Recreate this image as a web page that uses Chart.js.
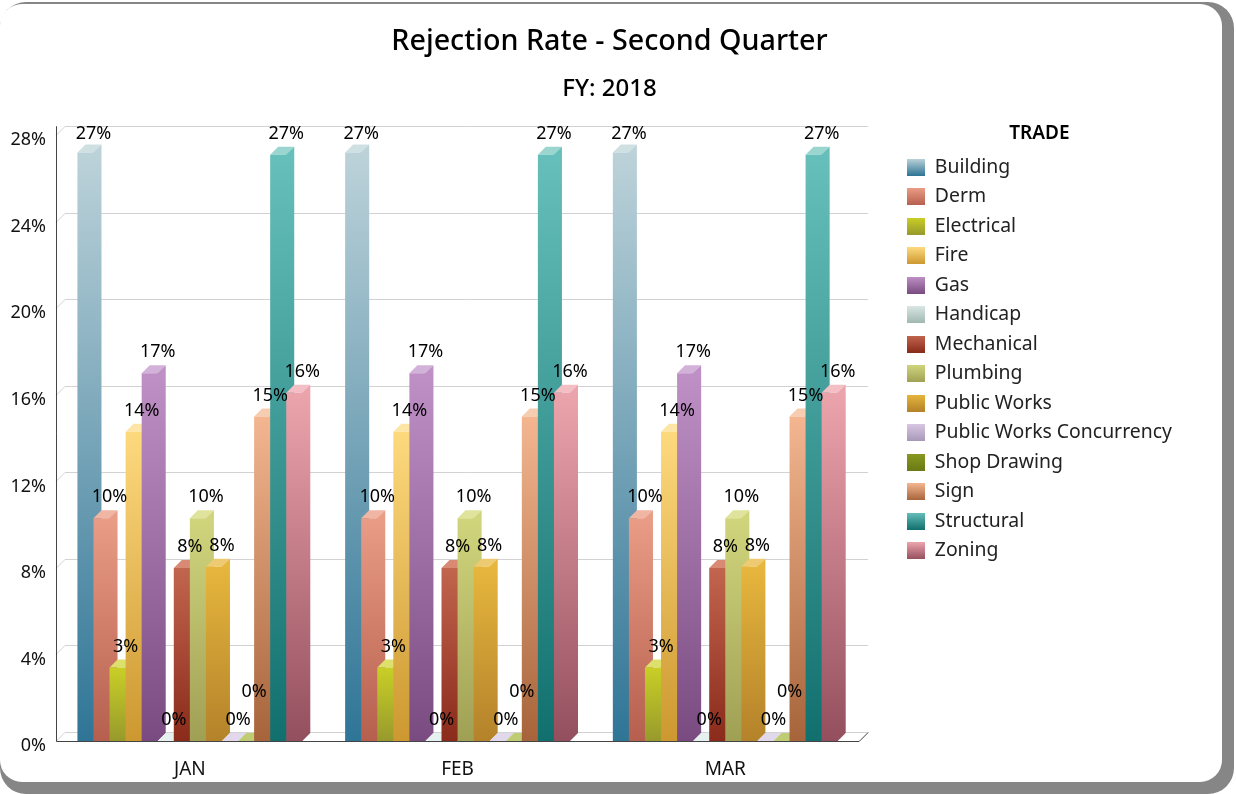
<!DOCTYPE html>
<html>
<head>
<meta charset="utf-8">
<style>
  html, body { margin: 0; padding: 0; background: #fff; overflow: hidden; }
  #frame { position: absolute; left: 0; top: 2px; width: 1234px; height: 792px; border-radius: 26px; background: #868686; filter: blur(0.7px); }
  #panel { position: absolute; left: 0; top: 2px; width: 1222px; height: 778px; border-radius: 22px; background: #fff; }
  #chart { position: absolute; left: 0; top: 0; }
</style>
<script src="https://cdn.jsdelivr.net/npm/chart.js@4/dist/chart.umd.min.js"></script>
</head>
<body>
<div id="frame"><div id="panel"></div></div>
<canvas id="chart" width="1219" height="794"></canvas>
<script>
const months = ['JAN', 'FEB', 'MAR'];
const trades = ['Building', 'Derm', 'Electrical', 'Fire', 'Gas', 'Handicap', 'Mechanical', 'Plumbing', 'Public Works', 'Public Works Concurrency', 'Shop Drawing', 'Sign', 'Structural', 'Zoning'];
const rates = [27.2, 10.3, 3.4, 14.3, 17.0, 0, 8.0, 10.3, 8.05, 0, 0, 15.0, 27.1, 16.1];
const topColors = ['#bcd2d9', '#e99c86', '#c9cf26', '#fdd97e', '#bf90c6', '#d9e6e4', '#c2654e', '#d0d57c', '#e6b63d', '#d8c6e2', '#8a9a20', '#f3b690', '#66bfba', '#eca4ac'];
const bottomColors = ['#2f7596', '#b65f4e', '#979a2c', '#cd9830', '#7a4b81', '#a0b8b0', '#8a2b1b', '#a0a055', '#b4822a', '#a898b8', '#6b7a15', '#a7643b', '#11706e', '#944f5e'];
const topFaceColors = ['#cfe0e3', '#f0b5a3', '#dde06c', '#fde5a5', '#d3b2d9', '#e6f0ee', '#d88a75', '#dfe39c', '#eecb72', '#e1d8ec', '#c0cc74', '#f7cdb1', '#9bd5d0', '#f3bfc5'];
const lift = [0, 0, 0, 0, 0, 0, 0, 0, 0, 0, 28, 0, 0, 0];
const fontFamily = '"Noto Sans", sans-serif';
const depth = 8;
const wallDepth = 9;

function swatch(i) {
    const c = document.createElement('canvas');
    c.width = 18;
    c.height = 17;
    const g = c.getContext('2d');
    const grad = g.createLinearGradient(0, 0, 0, 17);
    grad.addColorStop(0, topColors[i]);
    grad.addColorStop(1, bottomColors[i]);
    g.fillStyle = grad;
    g.fillRect(0, 0, 18, 17);
    return c;
}

function barGradient(c, i, bar) {
    const grad = c.createLinearGradient(0, bar.y, 0, bar.base);
    grad.addColorStop(0, topColors[i]);
    grad.addColorStop(1, bottomColors[i]);
    return grad;
}

const walls = {
    id: 'walls',
    beforeDatasetsDraw(chart) {
        const c = chart.ctx;
        const y = chart.scales.y;
        const area = chart.chartArea;
        c.save();
        c.lineWidth = 1;
        c.strokeStyle = '#d2d2d2';
        y.ticks.forEach((t) => {
            const py = Math.round(y.getPixelForValue(t.value)) + 0.5;
            c.beginPath();
            c.moveTo(area.left, py);
            c.lineTo(area.left + wallDepth, py - wallDepth);
            c.lineTo(area.right + wallDepth, py - wallDepth);
            c.stroke();
        });
        c.strokeStyle = '#444';
        c.beginPath();
        c.moveTo(area.left + 0.5, y.getPixelForValue(28) - wallDepth);
        c.lineTo(area.left + 0.5, area.bottom + 0.5);
        c.lineTo(area.right, area.bottom + 0.5);
        c.lineTo(area.right + wallDepth, area.bottom - wallDepth + 0.5);
        c.stroke();

        // left to right so each front covers the side of the bar before it
        trades.forEach((name, i) => {
            const meta = chart.getDatasetMeta(i);
            meta.data.forEach((bar) => {
                const l = bar.x - bar.width / 2;
                const r = bar.x + bar.width / 2;
                if (bar.base > bar.y) {
                    c.fillStyle = barGradient(c, i, bar);
                    c.beginPath();
                    c.moveTo(r - 1, bar.y);
                    c.lineTo(r + depth, bar.y - depth);
                    c.lineTo(r + depth, bar.base - depth);
                    c.lineTo(r, bar.base);
                    c.lineTo(r - 1, bar.base);
                    c.closePath();
                    c.fill();
                }
                c.fillStyle = topFaceColors[i];
                c.beginPath();
                c.moveTo(l, bar.y);
                c.lineTo(l + depth, bar.y - depth);
                c.lineTo(r + depth, bar.y - depth);
                c.lineTo(r, bar.y);
                c.closePath();
                c.fill();
            });
            meta.controller.draw();
        });
        c.restore();
        return false;
    },
    afterDraw(chart) {
        const c = chart.ctx;
        c.save();
        c.fillStyle = '#000';
        c.font = '18px ' + fontFamily;
        c.textAlign = 'center';
        c.textBaseline = 'middle';
        trades.forEach((name, i) => {
            chart.getDatasetMeta(i).data.forEach((bar, j) => {
                const v = chart.data.datasets[i].data[j];
                const ly = Math.max(chart.chartArea.top - 1, bar.y - depth - 13 - lift[i]);
                c.fillText(Math.round(v) + '%', bar.x + bar.width / 2, ly);
            });
        });
        c.restore();
    },
    afterLayout(chart) {
        chart.legend.left = 897;
        chart.legend.right = 1219;
        // titles stay centred on the whole panel, not on what the padding leaves
        chart.boxes.forEach((b) => {
            if (b.position === 'top') {
                b.left = 0;
                b.right = 1219;
            }
        });
    },
};

new Chart(document.getElementById('chart'), {
    type: 'bar',
    data: {
        labels: months,
        datasets: trades.map((name, i) => ({
            label: name,
            data: months.map(() => rates[i]),
            backgroundColor: (ctx) => {
                if (!ctx.chart.chartArea || ctx.parsed === undefined) return topColors[i];
                const y = ctx.chart.scales.y;
                const grad = ctx.chart.ctx.createLinearGradient(0, y.getPixelForValue(ctx.parsed.y), 0, y.getPixelForValue(0));
                grad.addColorStop(0, topColors[i]);
                grad.addColorStop(1, bottomColors[i]);
                return grad;
            },
            borderWidth: 0,
            categoryPercentage: 0.84,
            barPercentage: 1,
            pointStyle: swatch(i),
        })),
    },
    options: {
        responsive: false,
        animation: false,
        layout: { padding: { right: 75 } },
        plugins: {
            title: {
                display: true,
                text: 'Rejection Rate - Second Quarter',
                color: '#000',
                font: { family: fontFamily, size: 28.7, weight: '500' },
                padding: { top: 24.5, bottom: 15.5 },
            },
            subtitle: {
                display: true,
                text: 'FY: 2018',
                color: '#000',
                font: { family: fontFamily, size: 24, weight: '500' },
                padding: { top: 0, bottom: 32 },
            },
            legend: {
                position: 'right',
                align: 'start',
                title: {
                    display: true,
                    text: 'TRADE',
                    color: '#000',
                    font: { family: fontFamily, size: 19, weight: '600' },
                    padding: { top: 124, bottom: 0.6 },
                },
                labels: {
                    color: '#222',
                    font: { family: fontFamily, size: 19.4 },
                    usePointStyle: true,
                    boxWidth: 18,
                    boxHeight: 17,
                    padding: 10.1,
                },
            },
            tooltip: { enabled: false },
        },
        scales: {
            x: {
                grid: { display: false },
                border: { display: false },
                ticks: { color: '#111', font: { family: fontFamily, size: 19 }, padding: 9 },
                afterFit: (s) => { s.height = 53; },
            },
            y: {
                min: 0,
                max: 28,
                grid: { display: false },
                border: { display: false },
                ticks: {
                    stepSize: 4,
                    color: '#111',
                    font: { family: fontFamily, size: 18 },
                    padding: 2,
                    labelOffset: 5,
                    callback: (v) => v + '%',
                },
                afterFit: (s) => { s.width = 56; },
            },
        },
    },
    plugins: [walls],
});
</script>
</body>
</html>
